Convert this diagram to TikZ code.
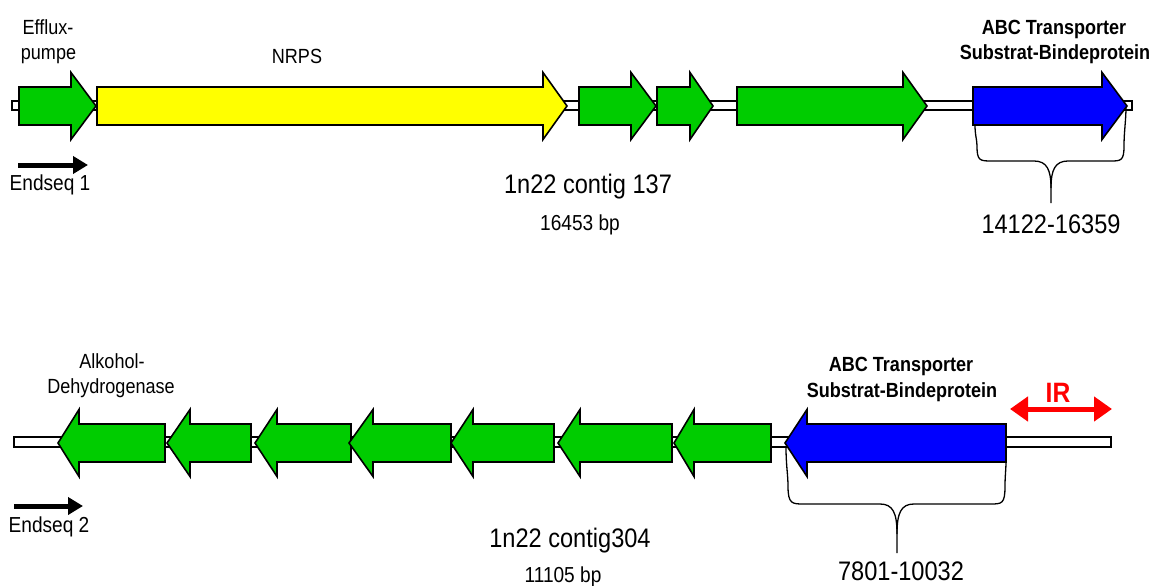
\documentclass[tikz,border=0pt]{standalone}
\usepackage{fontspec}
\setmainfont{Liberation Sans}[FakeStretch=0.88]
\usetikzlibrary{arrows.meta}

\definecolor{genegreen}{RGB}{0,204,0}
\definecolor{geneyellow}{RGB}{255,255,0}
\definecolor{geneblue}{RGB}{0,0,255}
\definecolor{irred}{RGB}{255,0,0}

\tikzset{
  gene/.style={draw=black, line width=1.6pt, line join=miter},
  backbone/.style={draw=black, fill=white, line width=1.3pt},
  brace/.style={draw=black, line width=1.3pt},
  lbl/.style={inner sep=0pt, anchor=base, font=\fontsize{20.5}{24}\selectfont},
  lblb/.style={inner sep=0pt, anchor=base, font=\bfseries\fontsize{20.5}{24}\selectfont},
  bigl/.style={inner sep=0pt, anchor=base, font=\fontsize{26.8}{30}\selectfont},
  midl/.style={inner sep=0pt, anchor=base, font=\fontsize{21.7}{26}\selectfont},
  irlabel/.style={inner sep=0pt, anchor=base, text=irred, font=\bfseries\fontsize{28}{32}\selectfont},
  endseq/.style={line width=5pt, -{Triangle[length=15pt,width=17pt]}},
  irarrow/.style={draw=irred, line width=5pt,
    {Triangle[length=18pt,width=24pt]}-{Triangle[length=18pt,width=24pt]}},
}

% gene pointing right: start, head base, tip, centre line, colour
\newcommand\geneR[5]{%
  \filldraw[gene, fill=#5] (#1,#4-19) -- (#2,#4-19) -- (#2,#4-33.5) -- (#3,#4)
    -- (#2,#4+33.5) -- (#2,#4+19) -- (#1,#4+19) -- cycle;}
% gene pointing left: tip, head base, end, centre line, colour
\newcommand\geneL[5]{%
  \filldraw[gene, fill=#5] (#3,#4-19) -- (#2,#4-19) -- (#2,#4-33.5) -- (#1,#4)
    -- (#2,#4+33.5) -- (#2,#4+19) -- (#3,#4+19) -- cycle;}

\begin{document}
\begin{tikzpicture}[x=1pt, y=-1pt]
\useasboundingbox (0,0) rectangle (1152,586);

% ---------- contig 137 ----------
\filldraw[backbone] (12,101) rectangle (1132,110);
\geneR{19}{71}{96}{106}{genegreen}
\geneR{97}{543}{567}{106}{geneyellow}
\geneR{579}{631}{656}{106}{genegreen}
\geneR{657}{690}{713}{106}{genegreen}
\geneR{737}{903}{927}{106}{genegreen}
\geneR{973}{1102}{1127}{106}{geneblue}

% brace under the transporter gene
\draw[brace] (975,125) .. controls (975,135) and (977,140) .. (977,146)
  .. controls (977,161) and (980,161) .. (992,161)
  -- (1034,161) .. controls (1047,161) and (1051,170) .. (1051,188) -- (1051,203);
\draw[brace] (1051,188) .. controls (1051,170) and (1055,161) .. (1068,161)
  -- (1110,161) .. controls (1121,161) and (1124,161) .. (1124,146)
  .. controls (1124,132) and (1126,120) .. (1126,107);

\node[lbl] (effluxA) at (48,35) {Efflux-};
\node[lbl] (effluxB) at (48.5,60) {pumpe};
\node[lbl] (nrps) at (297,64) {NRPS};
\node[lblb] (abcTopA) at (1054,35) {ABC Transporter};
\node[lblb] (abcTopB) at (1055,60) {Substrat-Bindeprotein};
\node[bigl] (contigA) at (588,193) {1n22 contig 137};
\node[midl] (bpA) at (580,230) {16453 bp};
\node[bigl] (rangeA) at (1051,233) {14122-16359};

\coordinate (esAstart) at (18,165);
\coordinate (esAend) at (88,165);
\draw[endseq] (esAstart) -- (esAend);
\node[midl] (endseqA) at (50,190) {Endseq 1};

% ---------- contig 304 ----------
\filldraw[backbone] (14,437) rectangle (1111,447);
\geneL{58}{79}{165}{443}{genegreen}
\geneL{167}{190}{251}{443}{genegreen}
\geneL{255}{277}{351}{443}{genegreen}
\geneL{349}{373}{451}{443}{genegreen}
\geneL{451}{473}{554}{443}{genegreen}
\geneL{558}{580}{672}{443}{genegreen}
\geneL{674}{694}{771}{443}{genegreen}
\geneL{785}{807}{1006}{443}{geneblue}

% brace under the transporter gene
\draw[brace] (786,447) .. controls (786,465) and (788,475) .. (788,486)
  .. controls (788,504) and (792,504) .. (804,504)
  -- (880,504) .. controls (893,504) and (897,513) .. (897,534) -- (897,553);
\draw[brace] (897,534) .. controls (897,513) and (901,504) .. (914,504)
  -- (990,504) .. controls (1002,504) and (1005,504) .. (1005,486)
  .. controls (1005,476) and (1006,470) .. (1006,461);

\node[lbl] (adhA) at (112,368) {Alkohol-};
\node[lbl] (adhB) at (111,393) {Dehydrogenase};
\node[lblb] (abcBotA) at (901,371) {ABC Transporter};
\node[lblb] (abcBotB) at (902,397) {Substrat-Bindeprotein};
\node[irlabel] (ir) at (1058,402) {IR};
\coordinate (irL) at (1010,409);
\coordinate (irR) at (1112,409);
\draw[irarrow] (irL) -- (irR);

\node[bigl] (contigB) at (570,547) {1n22 contig304};
\node[midl] (bpB) at (563,582) {11105 bp};
\node[bigl] (rangeB) at (901,580) {7801-10032};

\coordinate (esBstart) at (14,506);
\coordinate (esBend) at (83,506);
\draw[endseq] (esBstart) -- (esBend);
\node[midl] (endseqB) at (49,532) {Endseq 2};
\end{tikzpicture}
\end{document}
